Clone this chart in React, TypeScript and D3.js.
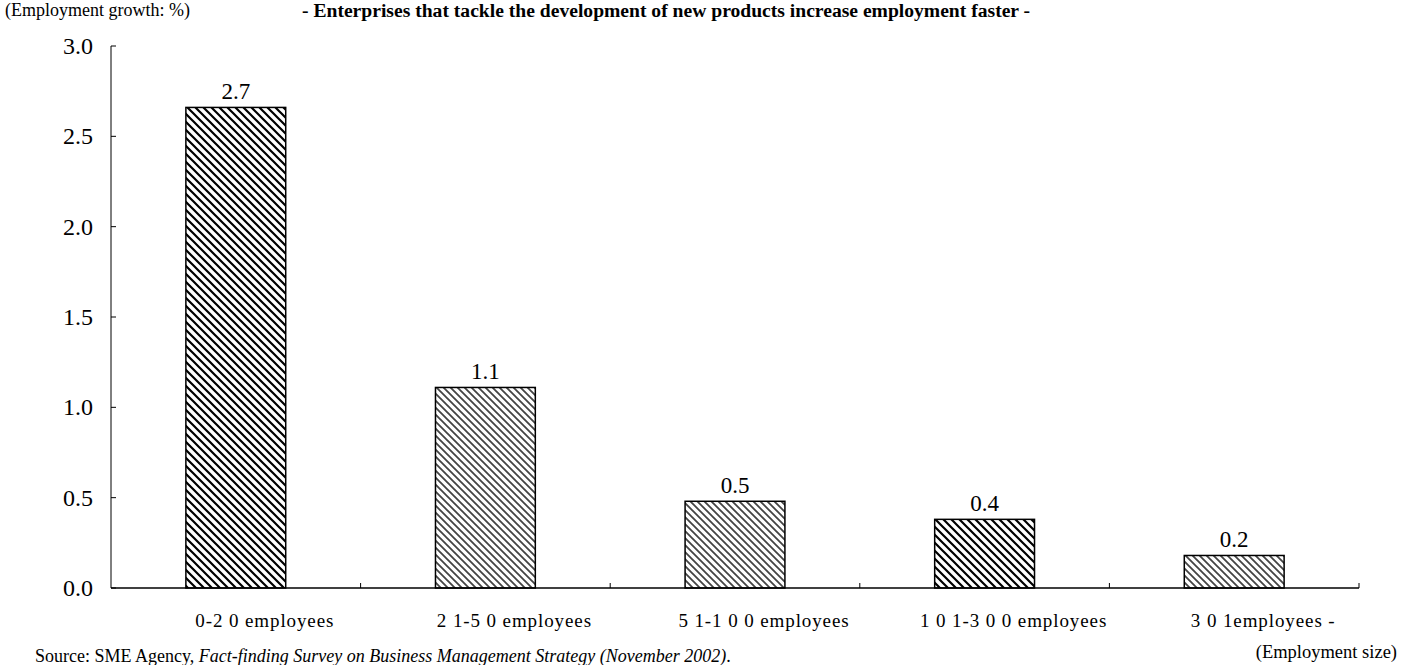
import React from "react";
import * as d3 from "d3";

// Employment growth by enterprise size
const categories = [
  "0-2 0 employees",
  "2 1-5 0 employees",
  "5 1-1 0 0 employees",
  "1 0 1-3 0 0 employees",
  "3 0 1employees -",
];
const growth = [2.66, 1.11, 0.48, 0.38, 0.18];
const patternKind = ["dark", "grey", "grey", "dark", "grey"];
const yTicks = [0, 0.5, 1.0, 1.5, 2.0, 2.5, 3.0];

const W = 1401;
const H = 665;
const margin = { left: 111, right: 42, top: 46, bottom: 77 };
const serif = "'Liberation Serif', 'Times New Roman', serif";

export default function App() {
  const x = d3
    .scaleBand<string>()
    .domain(categories)
    .range([margin.left, W - margin.right])
    .paddingInner(0.6)
    .paddingOuter(0.3);
  const y = d3
    .scaleLinear()
    .domain([0, 3])
    .range([H - margin.bottom, margin.top]);
  const fmt = d3.format(".1f");
  const step = x.step();
  const x0 = margin.left;
  const x1 = W - margin.right;
  const y0 = y(0);

  return (
    <svg
      width={W}
      height={H}
      style={{ position: "absolute", left: 0, top: 0, background: "#fff" }}
      fontFamily={serif}
    >
      <defs>
        <pattern id="hatch-dark" width={8} height={8} patternUnits="userSpaceOnUse">
          <rect width={8} height={8} fill="#fff" />
          <path d="M-2,-2 L10,10 M-2,6 L2,10 M6,-2 L10,2" stroke="#000" strokeWidth={2.2} />
        </pattern>
        <pattern id="hatch-grey" width={7} height={7} patternUnits="userSpaceOnUse">
          <rect width={7} height={7} fill="#fff" />
          <path d="M-2,-2 L9,9 M-2,5 L2,9 M5,-2 L9,2" stroke="#444" strokeWidth={1.8} />
        </pattern>
      </defs>

      {/* header texts */}
      <text x={5} y={16} fontSize={18}>
        (Employment growth: %)
      </text>
      <text x={302} y={17} fontSize={19.6}>
        <tspan fontWeight="bold">
          - Enterprises that tackle the development of new products increase employment faster -
        </tspan>
      </text>

      {/* bars */}
      {categories.map((c, i) => (
        <g key={c}>
          <rect
            x={x(c)}
            y={y(growth[i])}
            width={x.bandwidth()}
            height={y0 - y(growth[i])}
            fill={`url(#hatch-${patternKind[i]})`}
            stroke="#000"
            strokeWidth={1.5}
          />
          <text
            x={(x(c) as number) + x.bandwidth() / 2}
            y={y(growth[i]) - 8}
            textAnchor="middle"
            fontSize={23}
          >
            {fmt(growth[i])}
          </text>
          <text
            x={(x(c) as number) + x.bandwidth() / 2 + 29}
            y={627}
            textAnchor="middle"
            fontSize={19}
            letterSpacing={0.9}
          >
            {c}
          </text>
        </g>
      ))}

      {/* y axis */}
      <line x1={x0} x2={x0} y1={y(3)} y2={y0} stroke="#000" strokeWidth={1} />
      {yTicks.map((t) => (
        <g key={t}>
          <line x1={x0} x2={x0 + 5} y1={y(t)} y2={y(t)} stroke="#000" strokeWidth={1} />
          <text x={x0 - 18} y={y(t) + 8} textAnchor="end" fontSize={24}>
            {fmt(t)}
          </text>
        </g>
      ))}

      {/* x axis */}
      <line x1={x0} x2={x1} y1={y0} y2={y0} stroke="#000" strokeWidth={1.5} />
      {d3.range(1, categories.length + 1).map((k) => (
        <line
          key={k}
          x1={x0 + k * step}
          x2={x0 + k * step}
          y1={y0}
          y2={y0 - 5}
          stroke="#000"
          strokeWidth={1}
        />
      ))}

      <text x={1397} y={658} textAnchor="end" fontSize={18.5}>
        (Employment size)
      </text>
      <text x={35} y={662} fontSize={18}>
        Source: SME Agency,{" "}
        <tspan fontStyle="italic">
          Fact-finding Survey on Business Management Strategy (November 2002)
        </tspan>
        .
      </text>
    </svg>
  );
}
